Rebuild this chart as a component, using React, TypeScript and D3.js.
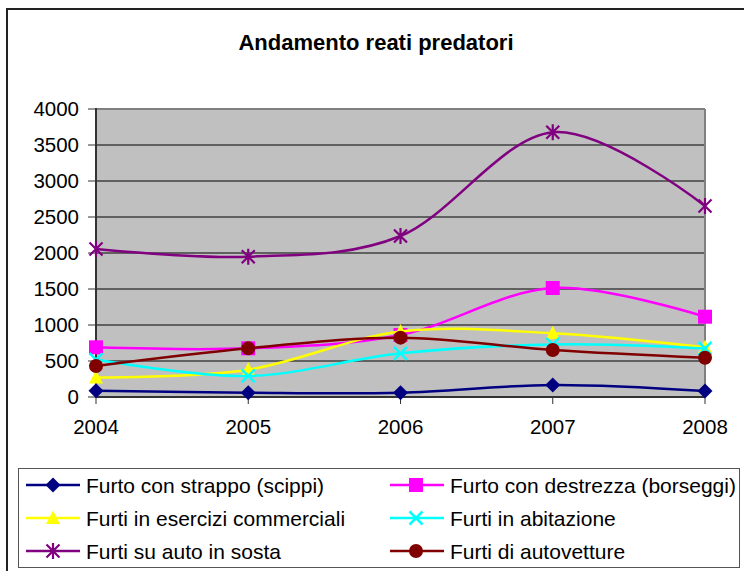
import React from 'react';
import * as d3 from 'd3';

const title = 'Andamento reati predatori';
const years = ['2004', '2005', '2006', '2007', '2008'];
const yTickValues = [0, 500, 1000, 1500, 2000, 2500, 3000, 3500, 4000];

const seriesNames = [
  'Furto con strappo (scippi)',
  'Furto con destrezza (borseggi)',
  'Furti in esercizi commerciali',
  'Furti in abitazione',
  'Furti su auto in sosta',
  'Furti di autovetture',
];
const scippi = [88, 60, 60, 167, 83];
const borseggi = [690, 676, 861, 1514, 1115];
const eserciziCommerciali = [270, 380, 910, 885, 690];
const abitazione = [520, 292, 606, 730, 675];
const autoInSosta = [2056, 1949, 2236, 3676, 2653];
const autovetture = [430, 676, 824, 653, 546];
const seriesValues = [scippi, borseggi, eserciziCommerciali, abitazione, autoInSosta, autovetture];
const seriesColors = ['#000080', '#FF00FF', '#FFFF00', '#00FFFF', '#800080', '#800000'];
const seriesMarkers = ['diamond', 'square', 'triangle', 'times', 'asterisk', 'circle'];

const W = 744;
const H = 571;
const plot = { left: 96, right: 705, top: 109, bottom: 397 };
const FONT = '"Liberation Sans", Arial, sans-serif';

function Marker({ type, x, y, color }: { type: string; x: number; y: number; color: string }) {
  const r = 7.5;
  if (type === 'diamond') {
    return <path d={`M${x},${y - r}L${x + r},${y}L${x},${y + r}L${x - r},${y}Z`} fill={color} />;
  }
  if (type === 'square') {
    return <rect x={x - 7} y={y - 7} width={14} height={14} fill={color} />;
  }
  if (type === 'triangle') {
    return <path d={`M${x},${y - 7.5}L${x + 7},${y + 6}L${x - 7},${y + 6}Z`} fill={color} />;
  }
  if (type === 'times') {
    const s = 6.5;
    return (
      <path d={`M${x - s},${y - s}L${x + s},${y + s}M${x - s},${y + s}L${x + s},${y - s}`} stroke={color} strokeWidth={2.5} fill="none" />
    );
  }
  if (type === 'asterisk') {
    const s = 6.5;
    return (
      <path
        d={`M${x - s},${y - s}L${x + s},${y + s}M${x - s},${y + s}L${x + s},${y - s}M${x},${y - 8}L${x},${y + 8}`}
        stroke={color}
        strokeWidth={2.2}
        fill="none"
      />
    );
  }
  return <circle cx={x} cy={y} r={7} fill={color} />;
}

export default function App() {
  const x = d3.scalePoint<string>().domain(years).range([plot.left, plot.right]);
  const y = d3.scaleLinear().domain([0, 4000]).range([plot.bottom, plot.top]);
  const line = d3
    .line<number>()
    .x((_, i) => x(years[i]) as number)
    .y((d) => y(d))
    .curve(d3.curveCardinal.tension(0));

  const legendCols = [
    { lineX0: 26, lineX1: 80, markX: 53, textX: 86 },
    { lineX0: 390, lineX1: 444, markX: 416, textX: 450 },
  ];
  const legendRows = [485, 518, 551];

  return (
    <svg
      width={W}
      height={H}
      style={{ position: 'absolute', left: 0, top: 0, background: '#fff' }}
      fontFamily={FONT}
    >
      <rect x={0} y={0} width={W} height={H} fill="#fff" />
      {/* outer chart border */}
      <rect x={7} y={9} width={W + 10} height={H + 10} fill="none" stroke="#222" strokeWidth={2} />
      <text x={376} y={50} textAnchor="middle" fontSize={22} fontWeight="bold" fill="#000">
        {title}
      </text>

      {/* plot area */}
      <rect x={plot.left} y={plot.top} width={plot.right - plot.left} height={plot.bottom - plot.top} fill="#C0C0C0" />
      {yTickValues.map((t) => (
        <line key={'g' + t} x1={plot.left} x2={plot.right} y1={y(t)} y2={y(t)} stroke="#000" strokeWidth={1} />
      ))}
      <line x1={plot.left} x2={plot.right} y1={plot.top} y2={plot.top} stroke="#808080" strokeWidth={2} />
      <line x1={plot.right} x2={plot.right} y1={plot.top} y2={plot.bottom} stroke="#808080" strokeWidth={2} />
      <line x1={plot.left} x2={plot.left} y1={plot.top - 1} y2={plot.bottom} stroke="#333" strokeWidth={2} />
      <line x1={plot.left} x2={plot.right} y1={plot.bottom} y2={plot.bottom} stroke="#333" strokeWidth={2} />

      {/* y axis */}
      {yTickValues.map((t) => (
        <g key={'y' + t}>
          <line x1={plot.left - 8} x2={plot.left} y1={y(t)} y2={y(t)} stroke="#333" strokeWidth={1} />
          <text x={79} y={y(t)} dy="0.35em" textAnchor="end" fontSize={20.5} fill="#000">
            {t}
          </text>
        </g>
      ))}
      {/* x axis */}
      {years.map((yr) => (
        <g key={'x' + yr}>
          <line x1={x(yr)} x2={x(yr)} y1={plot.bottom} y2={plot.bottom + 7} stroke="#333" strokeWidth={1} />
          <text x={x(yr)} y={434} textAnchor="middle" fontSize={20.5} fill="#000">
            {yr}
          </text>
        </g>
      ))}

      {/* series */}
      {seriesValues.map((vals, si) => (
        <g key={'s' + si}>
          <path d={line(vals) || ''} fill="none" stroke={seriesColors[si]} strokeWidth={2.5} />
          {vals.map((v, i) => (
            <Marker key={i} type={seriesMarkers[si]} x={x(years[i]) as number} y={y(v)} color={seriesColors[si]} />
          ))}
        </g>
      ))}

      {/* legend */}
      <rect x={18.5} y={468.5} width={721} height={99} fill="#fff" stroke="#555" strokeWidth={1} />
      {seriesNames.map((name, i) => {
        const col = legendCols[i % 2];
        const ry = legendRows[Math.floor(i / 2)];
        return (
          <g key={'l' + i}>
            <line x1={col.lineX0} x2={col.lineX1} y1={ry} y2={ry} stroke={seriesColors[i]} strokeWidth={2.5} />
            <Marker type={seriesMarkers[i]} x={col.markX} y={ry} color={seriesColors[i]} />
            <text x={col.textX} y={ry} dy="0.36em" fontSize={21} fill="#000">
              {name}
            </text>
          </g>
        );
      })}
    </svg>
  );
}
